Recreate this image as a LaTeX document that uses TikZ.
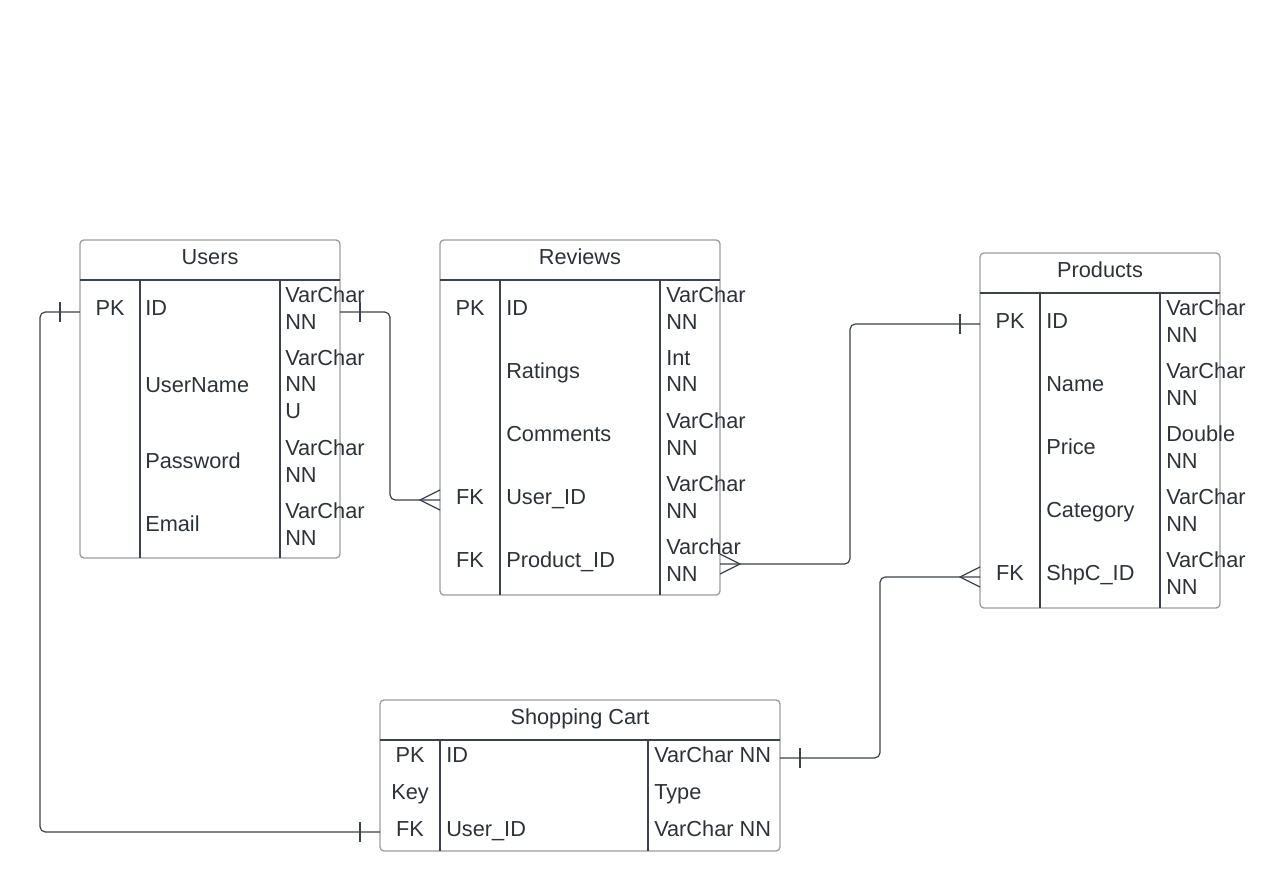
\documentclass[tikz,border=0pt]{standalone}
\usepackage{fontspec}
\setmainfont{Liberation Sans}
\definecolor{boxgray}{HTML}{9A9DA2}
\definecolor{inkline}{HTML}{3C424A}
\definecolor{txt}{HTML}{2D3239}
\begin{document}
\begin{tikzpicture}[x=0.75pt,y=-0.75pt,
  font=\fontsize{16.3}{19.9}\selectfont, text=txt,
  frame/.style={draw=boxgray, line width=1pt, rounded corners=3pt},
  rule/.style={draw=inkline, line width=0.9pt},
  link/.style={draw=inkline, line width=0.9pt, rounded corners=4pt},
  mark1/.style={draw=inkline, line width=0.9pt},
  title/.style={anchor=center, inner sep=0pt, text height=11.7pt, text depth=0pt},
  keycell/.style={anchor=center, inner sep=0pt, text height=11.7pt, text depth=0pt},
  namecell/.style={anchor=west, inner sep=0pt, text height=11.7pt, text depth=0pt},
  typecell/.style={anchor=west, inner sep=0pt, align=left}]
\useasboundingbox (0,0) rectangle (1261,891);

% ---------- Users ----------
\draw[frame] (80,240) rectangle (340,558);
\draw[rule] (80,280) -- (340,280) (140,280) -- (140,558) (280,280) -- (280,558);
\node[title] (usersT) at (210,257) {Users};
\node[keycell] (usersK1) at (110,308) {PK};
\node[namecell] (usersN1) at (145,308) {ID};
\node[namecell] (usersN2) at (145,385) {UserName};
\node[namecell] (usersN3) at (145,461) {Password};
\node[namecell] (usersN4) at (145,524) {Email};
\node[typecell] (usersY1) at (285,308) {VarChar\\NN};
\node[typecell] (usersY2) at (285,384) {VarChar\\NN\\U};
\node[typecell] (usersY3) at (285,461) {VarChar\\NN};
\node[typecell] (usersY4) at (285,524) {VarChar\\NN};

% ---------- Reviews ----------
\draw[frame] (440,240) rectangle (720,595);
\draw[rule] (440,280) -- (720,280) (500,280) -- (500,595) (660,280) -- (660,595);
\node[title] (revT) at (580,257) {Reviews};
\node[keycell] (revK1) at (470,308) {PK};
\node[keycell] (revK4) at (470,497) {FK};
\node[keycell] (revK5) at (470,560) {FK};
\node[namecell] (revN1) at (506,308) {ID};
\node[namecell] (revN2) at (506,371) {Ratings};
\node[namecell] (revN3) at (506,434) {Comments};
\node[namecell] (revN4) at (506,497) {User\_ID};
\node[namecell] (revN5) at (506,560) {Product\_ID};
\node[typecell] (revY1) at (666,308) {VarChar\\NN};
\node[typecell] (revY2) at (666,371) {Int\\NN};
\node[typecell] (revY3) at (666,434) {VarChar\\NN};
\node[typecell] (revY4) at (666,497) {VarChar\\NN};
\node[typecell] (revY5) at (666,560) {Varchar\\NN};

% ---------- Products ----------
\draw[frame] (980,253) rectangle (1220,608);
\draw[rule] (980,293) -- (1220,293) (1040,293) -- (1040,608) (1160,293) -- (1160,608);
\node[title] (prodT) at (1100,270) {Products};
\node[keycell] (prodK1) at (1010,321) {PK};
\node[keycell] (prodK5) at (1010,573) {FK};
\node[namecell] (prodN1) at (1046,321) {ID};
\node[namecell] (prodN2) at (1046,384) {Name};
\node[namecell] (prodN3) at (1046,447) {Price};
\node[namecell] (prodN4) at (1046,510) {Category};
\node[namecell] (prodN5) at (1046,573) {ShpC\_ID};
\node[typecell] (prodY1) at (1166,321) {VarChar\\NN};
\node[typecell] (prodY2) at (1166,384) {VarChar\\NN};
\node[typecell] (prodY3) at (1166,447) {Double\\NN};
\node[typecell] (prodY4) at (1166,510) {VarChar\\NN};
\node[typecell] (prodY5) at (1166,573) {VarChar\\NN};

% ---------- Shopping Cart ----------
\draw[frame] (380,700) rectangle (780,851);
\draw[rule] (380,740) -- (780,740) (440,740) -- (440,851) (648,740) -- (648,851);
\node[title] (cartT) at (580,717) {Shopping Cart};
\node[keycell] (cartK1) at (410,755) {PK};
\node[keycell] (cartK2) at (410,792) {Key};
\node[keycell] (cartK3) at (410,829) {FK};
\node[namecell] (cartN1) at (446,755) {ID};
\node[namecell] (cartN3) at (446,829) {User\_ID};
\node[namecell] (cartY1) at (654,755) {VarChar NN};
\node[namecell] (cartY2) at (654,792) {Type};
\node[namecell] (cartY3) at (654,829) {VarChar NN};

% ---------- attachment points ----------
\coordinate (usersWest) at (80,312);
\coordinate (usersEast) at (340,312);
\coordinate (revUser) at (440,500);
\coordinate (revProd) at (720,564);
\coordinate (prodID) at (980,324);
\coordinate (prodShp) at (980,577);
\coordinate (cartID) at (780,758);
\coordinate (cartUser) at (380,832);

% ---------- relationships ----------
% Users.ID -- Shopping Cart.User_ID (one to one)
\draw[link] (usersWest) -- (40,312) -- (40,832) -- (cartUser);
\draw[mark1] (usersWest) ++(-20,-10) -- ++(0,20);
\draw[mark1] (cartUser) ++(-20,-10) -- ++(0,20);

% Users.ID -- Reviews.User_ID (one to many)
\draw[link] (usersEast) -- (390,312) -- (390,500) -- (revUser);
\draw[mark1] (usersEast) ++(20,-10) -- ++(0,20);
\draw[mark1] (revUser) ++(0,-10) -- ++(-20,10) -- ++(20,10);

% Reviews.Product_ID -- Products.ID (many to one)
\draw[link] (revProd) -- (850,564) -- (850,324) -- (prodID);
\draw[mark1] (revProd) ++(0,-10) -- ++(20,10) -- ++(-20,10);
\draw[mark1] (prodID) ++(-20,-10) -- ++(0,20);

% Products.ShpC_ID -- Shopping Cart.ID (many to one)
\draw[link] (prodShp) -- (880,577) -- (880,758) -- (cartID);
\draw[mark1] (prodShp) ++(0,-10) -- ++(-20,10) -- ++(20,10);
\draw[mark1] (cartID) ++(20,-10) -- ++(0,20);
\end{tikzpicture}
\end{document}
